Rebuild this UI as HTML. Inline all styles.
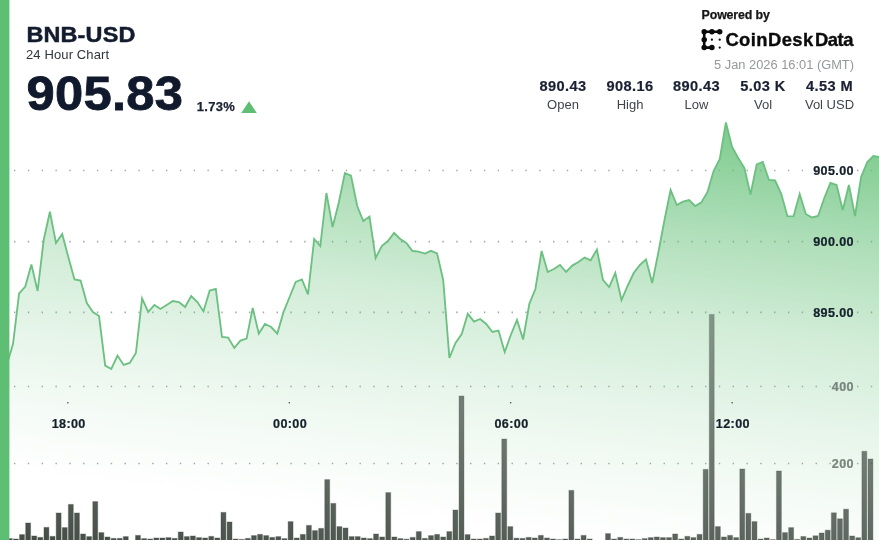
<!DOCTYPE html>
<html lang="en">
<head>
<meta charset="utf-8">
<title>BNB-USD 24 Hour Chart</title>
<style>
html,body{margin:0;padding:0;background:#fff;}
body{width:879px;height:540px;overflow:hidden;position:relative;}
svg{display:block;position:absolute;left:0;top:0;will-change:transform;}
text{font-family:"Liberation Sans",sans-serif;}
.ax{font-size:12.6px;font-weight:700;fill:#15202b;letter-spacing:0.38px;stroke:#15202b;stroke-width:0.22px;}
.vx{fill:#79857e;stroke:#79857e;}
.sv{font-size:14.6px;font-weight:700;fill:#1a2133;letter-spacing:0.42px;stroke:#1a2133;stroke-width:0.2px;}
.sl{font-size:13px;fill:#3f444d;}
</style>
</head>
<body>
<svg width="879" height="540" viewBox="0 0 879 540">
<defs>
<linearGradient id="fillg" gradientUnits="userSpaceOnUse" x1="850" y1="122" x2="797.1" y2="573.8"><stop offset="0.000" stop-color="#5fbe73" stop-opacity="0.84"/><stop offset="0.073" stop-color="#5fbe73" stop-opacity="0.76"/><stop offset="0.283" stop-color="#5fbe73" stop-opacity="0.49"/><stop offset="0.480" stop-color="#5fbe73" stop-opacity="0.285"/><stop offset="0.668" stop-color="#5fbe73" stop-opacity="0.155"/><stop offset="0.810" stop-color="#5fbe73" stop-opacity="0.075"/><stop offset="0.841" stop-color="#5fbe73" stop-opacity="0.06"/><stop offset="0.954" stop-color="#5fbe73" stop-opacity="0.012"/><stop offset="1.000" stop-color="#5fbe73" stop-opacity="0.0"/></linearGradient>
<linearGradient id="barg" gradientUnits="userSpaceOnUse" x1="850" y1="122" x2="790.2" y2="633"><stop offset="0" stop-color="#36483c" stop-opacity="0.22"/><stop offset="1" stop-color="#3c443e" stop-opacity="0.955"/></linearGradient>
</defs>
<rect x="0" y="0" width="879" height="540" fill="#ffffff"/>
<g stroke="#a3a7a9" stroke-width="1.7" stroke-dasharray="1.4 12.42" fill="none"><line x1="14" x2="879" y1="170.5" y2="170.5"/><line x1="14" x2="879" y1="241.6" y2="241.6"/><line x1="14" x2="879" y1="312.3" y2="312.3"/><line x1="14" x2="879" y1="386.5" y2="386.5"/><line x1="14" x2="879" y1="463.5" y2="463.5"/></g>
<path d="M0.7 372.0 L6.9 364.6 L13.0 344.0 L19.1 293.5 L25.3 286.5 L31.4 264.4 L37.6 291.0 L43.7 240.0 L49.9 211.6 L56.0 243.0 L62.2 234.0 L68.3 257.0 L74.5 279.5 L80.6 280.5 L86.8 303.0 L92.9 312.0 L99.0 316.0 L105.2 365.6 L111.3 369.0 L117.5 355.6 L123.6 365.0 L129.8 363.0 L135.9 353.0 L142.1 298.4 L148.2 312.0 L154.4 305.0 L160.5 309.0 L166.7 305.0 L172.8 301.0 L178.9 302.0 L185.1 307.0 L191.2 296.0 L197.4 302.0 L203.5 311.4 L209.7 290.6 L215.8 289.0 L222.0 337.0 L228.1 337.6 L234.3 348.0 L240.4 340.6 L246.6 338.6 L252.7 308.0 L258.8 333.6 L265.0 324.0 L271.1 327.0 L277.3 333.6 L283.4 312.4 L289.6 297.0 L295.7 282.0 L301.9 279.4 L308.0 294.4 L314.2 239.0 L320.3 246.0 L326.4 193.0 L332.6 227.0 L338.7 203.0 L344.9 173.0 L351.0 175.6 L357.2 206.0 L363.3 221.0 L369.5 216.6 L375.6 258.0 L381.8 246.0 L387.9 241.0 L394.1 233.0 L400.2 239.0 L406.3 243.0 L412.5 251.0 L418.6 251.6 L424.8 253.6 L430.9 250.8 L437.1 253.5 L443.2 280.0 L449.4 358.0 L455.5 343.0 L461.7 334.0 L467.8 313.8 L474.0 321.6 L480.1 319.0 L486.2 324.0 L492.4 332.0 L498.5 330.6 L504.7 352.0 L510.8 335.0 L517.0 320.0 L523.1 339.5 L529.3 304.0 L535.4 289.0 L541.6 251.0 L547.7 272.0 L553.9 269.0 L560.0 265.0 L566.1 272.0 L572.3 265.6 L578.4 262.0 L584.6 257.6 L590.7 260.3 L596.9 249.5 L603.0 280.0 L609.2 287.0 L615.3 273.0 L621.5 300.0 L627.6 286.0 L633.7 273.0 L639.9 265.0 L646.0 259.4 L652.2 283.0 L658.3 252.8 L664.5 220.0 L670.6 190.0 L676.8 205.0 L682.9 201.6 L689.1 200.0 L695.2 206.0 L701.4 202.4 L707.5 192.0 L713.6 171.0 L719.8 159.0 L725.9 122.4 L732.1 147.0 L738.2 158.0 L744.4 168.0 L750.5 194.5 L756.7 164.4 L762.8 162.0 L769.0 180.0 L775.1 180.5 L781.3 194.0 L787.4 216.2 L793.5 216.4 L799.7 194.0 L805.8 214.0 L812.0 217.5 L818.1 216.0 L824.3 198.0 L830.4 183.0 L836.6 185.0 L842.7 210.0 L848.9 185.0 L855.0 216.0 L861.1 177.0 L867.3 162.0 L873.4 156.0 L879.6 157.0 L879.5 541 L0 541 Z" fill="url(#fillg)" stroke="none"/>
<path d="M0.7 372.0 L6.9 364.6 L13.0 344.0 L19.1 293.5 L25.3 286.5 L31.4 264.4 L37.6 291.0 L43.7 240.0 L49.9 211.6 L56.0 243.0 L62.2 234.0 L68.3 257.0 L74.5 279.5 L80.6 280.5 L86.8 303.0 L92.9 312.0 L99.0 316.0 L105.2 365.6 L111.3 369.0 L117.5 355.6 L123.6 365.0 L129.8 363.0 L135.9 353.0 L142.1 298.4 L148.2 312.0 L154.4 305.0 L160.5 309.0 L166.7 305.0 L172.8 301.0 L178.9 302.0 L185.1 307.0 L191.2 296.0 L197.4 302.0 L203.5 311.4 L209.7 290.6 L215.8 289.0 L222.0 337.0 L228.1 337.6 L234.3 348.0 L240.4 340.6 L246.6 338.6 L252.7 308.0 L258.8 333.6 L265.0 324.0 L271.1 327.0 L277.3 333.6 L283.4 312.4 L289.6 297.0 L295.7 282.0 L301.9 279.4 L308.0 294.4 L314.2 239.0 L320.3 246.0 L326.4 193.0 L332.6 227.0 L338.7 203.0 L344.9 173.0 L351.0 175.6 L357.2 206.0 L363.3 221.0 L369.5 216.6 L375.6 258.0 L381.8 246.0 L387.9 241.0 L394.1 233.0 L400.2 239.0 L406.3 243.0 L412.5 251.0 L418.6 251.6 L424.8 253.6 L430.9 250.8 L437.1 253.5 L443.2 280.0 L449.4 358.0 L455.5 343.0 L461.7 334.0 L467.8 313.8 L474.0 321.6 L480.1 319.0 L486.2 324.0 L492.4 332.0 L498.5 330.6 L504.7 352.0 L510.8 335.0 L517.0 320.0 L523.1 339.5 L529.3 304.0 L535.4 289.0 L541.6 251.0 L547.7 272.0 L553.9 269.0 L560.0 265.0 L566.1 272.0 L572.3 265.6 L578.4 262.0 L584.6 257.6 L590.7 260.3 L596.9 249.5 L603.0 280.0 L609.2 287.0 L615.3 273.0 L621.5 300.0 L627.6 286.0 L633.7 273.0 L639.9 265.0 L646.0 259.4 L652.2 283.0 L658.3 252.8 L664.5 220.0 L670.6 190.0 L676.8 205.0 L682.9 201.6 L689.1 200.0 L695.2 206.0 L701.4 202.4 L707.5 192.0 L713.6 171.0 L719.8 159.0 L725.9 122.4 L732.1 147.0 L738.2 158.0 L744.4 168.0 L750.5 194.5 L756.7 164.4 L762.8 162.0 L769.0 180.0 L775.1 180.5 L781.3 194.0 L787.4 216.2 L793.5 216.4 L799.7 194.0 L805.8 214.0 L812.0 217.5 L818.1 216.0 L824.3 198.0 L830.4 183.0 L836.6 185.0 L842.7 210.0 L848.9 185.0 L855.0 216.0 L861.1 177.0 L867.3 162.0 L873.4 156.0 L879.6 157.0" fill="none" stroke="#6cc081" stroke-width="1.85" stroke-linejoin="miter" stroke-linecap="butt"/>
<g fill="url(#barg)" stroke="url(#barg)" stroke-opacity="0.36" stroke-width="1.1"><rect x="7.35" y="538.6" width="4.9" height="2.4"/><rect x="13.46" y="539.0" width="4.9" height="2.0"/><rect x="19.56" y="534.6" width="4.9" height="6.4"/><rect x="25.67" y="523.0" width="4.9" height="18.0"/><rect x="31.77" y="536.0" width="4.9" height="5.0"/><rect x="37.87" y="537.4" width="4.9" height="3.6"/><rect x="43.98" y="527.4" width="4.9" height="13.6"/><rect x="50.08" y="536.4" width="4.9" height="4.6"/><rect x="56.19" y="513.0" width="4.9" height="28.0"/><rect x="62.29" y="527.6" width="4.9" height="13.4"/><rect x="68.39" y="504.4" width="4.9" height="36.6"/><rect x="74.50" y="513.0" width="4.9" height="28.0"/><rect x="80.60" y="534.0" width="4.9" height="7.0"/><rect x="86.71" y="536.6" width="4.9" height="4.4"/><rect x="92.81" y="501.6" width="4.9" height="39.4"/><rect x="98.91" y="532.6" width="4.9" height="8.4"/><rect x="105.02" y="537.0" width="4.9" height="4.0"/><rect x="111.12" y="538.4" width="4.9" height="2.6"/><rect x="117.23" y="538.4" width="4.9" height="2.6"/><rect x="123.33" y="536.6" width="4.9" height="4.4"/><rect x="135.54" y="535.4" width="4.9" height="5.6"/><rect x="141.64" y="538.6" width="4.9" height="2.4"/><rect x="147.75" y="539.0" width="4.9" height="2.0"/><rect x="153.85" y="538.0" width="4.9" height="3.0"/><rect x="159.95" y="538.0" width="4.9" height="3.0"/><rect x="166.06" y="537.6" width="4.9" height="3.4"/><rect x="172.16" y="538.4" width="4.9" height="2.6"/><rect x="178.27" y="532.0" width="4.9" height="9.0"/><rect x="184.37" y="536.6" width="4.9" height="4.4"/><rect x="190.47" y="536.0" width="4.9" height="5.0"/><rect x="196.58" y="537.6" width="4.9" height="3.4"/><rect x="202.68" y="538.0" width="4.9" height="3.0"/><rect x="208.79" y="536.4" width="4.9" height="4.6"/><rect x="214.89" y="538.0" width="4.9" height="3.0"/><rect x="220.99" y="512.4" width="4.9" height="28.6"/><rect x="227.10" y="522.0" width="4.9" height="19.0"/><rect x="233.20" y="539.0" width="4.9" height="2.0"/><rect x="239.31" y="539.4" width="4.9" height="1.6"/><rect x="245.41" y="538.4" width="4.9" height="2.6"/><rect x="251.51" y="535.6" width="4.9" height="5.4"/><rect x="257.62" y="534.4" width="4.9" height="6.6"/><rect x="263.72" y="535.6" width="4.9" height="5.4"/><rect x="269.83" y="537.4" width="4.9" height="3.6"/><rect x="275.93" y="536.6" width="4.9" height="4.4"/><rect x="282.03" y="538.6" width="4.9" height="2.4"/><rect x="288.14" y="521.6" width="4.9" height="19.4"/><rect x="294.24" y="538.0" width="4.9" height="3.0"/><rect x="300.35" y="534.4" width="4.9" height="6.6"/><rect x="306.45" y="525.4" width="4.9" height="15.6"/><rect x="312.55" y="530.6" width="4.9" height="10.4"/><rect x="318.66" y="528.4" width="4.9" height="12.6"/><rect x="324.76" y="479.6" width="4.9" height="61.4"/><rect x="330.87" y="503.4" width="4.9" height="37.6"/><rect x="336.97" y="526.6" width="4.9" height="14.4"/><rect x="343.07" y="528.0" width="4.9" height="13.0"/><rect x="349.18" y="536.6" width="4.9" height="4.4"/><rect x="355.28" y="536.6" width="4.9" height="4.4"/><rect x="361.39" y="538.0" width="4.9" height="3.0"/><rect x="367.49" y="538.6" width="4.9" height="2.4"/><rect x="373.59" y="534.0" width="4.9" height="7.0"/><rect x="379.70" y="537.0" width="4.9" height="4.0"/><rect x="385.80" y="492.6" width="4.9" height="48.4"/><rect x="391.91" y="537.0" width="4.9" height="4.0"/><rect x="398.01" y="538.6" width="4.9" height="2.4"/><rect x="404.11" y="539.2" width="4.9" height="1.8"/><rect x="410.22" y="537.4" width="4.9" height="3.6"/><rect x="416.32" y="531.6" width="4.9" height="9.4"/><rect x="422.43" y="538.4" width="4.9" height="2.6"/><rect x="428.53" y="535.6" width="4.9" height="5.4"/><rect x="434.63" y="534.4" width="4.9" height="6.6"/><rect x="440.74" y="537.0" width="4.9" height="4.0"/><rect x="446.84" y="531.6" width="4.9" height="9.4"/><rect x="452.95" y="510.0" width="4.9" height="31.0"/><rect x="459.05" y="396.0" width="4.9" height="145.0"/><rect x="465.15" y="534.6" width="4.9" height="6.4"/><rect x="471.26" y="539.0" width="4.9" height="2.0"/><rect x="477.36" y="539.0" width="4.9" height="2.0"/><rect x="483.47" y="538.4" width="4.9" height="2.6"/><rect x="489.57" y="536.0" width="4.9" height="5.0"/><rect x="495.67" y="513.0" width="4.9" height="28.0"/><rect x="501.78" y="439.0" width="4.9" height="102.0"/><rect x="507.88" y="526.6" width="4.9" height="14.4"/><rect x="513.99" y="538.2" width="4.9" height="2.8"/><rect x="520.09" y="538.4" width="4.9" height="2.6"/><rect x="526.19" y="537.4" width="4.9" height="3.6"/><rect x="532.30" y="538.0" width="4.9" height="3.0"/><rect x="538.40" y="535.4" width="4.9" height="5.6"/><rect x="544.51" y="538.0" width="4.9" height="3.0"/><rect x="550.61" y="539.0" width="4.9" height="2.0"/><rect x="556.71" y="539.6" width="4.9" height="1.4"/><rect x="562.82" y="539.0" width="4.9" height="2.0"/><rect x="568.92" y="490.4" width="4.9" height="50.6"/><rect x="575.03" y="539.0" width="4.9" height="2.0"/><rect x="581.13" y="535.4" width="4.9" height="5.6"/><rect x="587.23" y="539.0" width="4.9" height="2.0"/><rect x="605.55" y="533.6" width="4.9" height="7.4"/><rect x="611.65" y="539.0" width="4.9" height="2.0"/><rect x="617.75" y="537.4" width="4.9" height="3.6"/><rect x="623.86" y="539.0" width="4.9" height="2.0"/><rect x="629.96" y="539.0" width="4.9" height="2.0"/><rect x="636.07" y="539.6" width="4.9" height="1.4"/><rect x="642.17" y="538.6" width="4.9" height="2.4"/><rect x="648.27" y="537.6" width="4.9" height="3.4"/><rect x="654.38" y="537.0" width="4.9" height="4.0"/><rect x="660.48" y="537.6" width="4.9" height="3.4"/><rect x="666.59" y="537.6" width="4.9" height="3.4"/><rect x="672.69" y="534.0" width="4.9" height="7.0"/><rect x="678.79" y="539.0" width="4.9" height="2.0"/><rect x="684.90" y="536.4" width="4.9" height="4.6"/><rect x="691.00" y="537.6" width="4.9" height="3.4"/><rect x="697.11" y="534.4" width="4.9" height="6.6"/><rect x="703.21" y="469.4" width="4.9" height="71.6"/><rect x="709.31" y="314.4" width="4.9" height="226.6"/><rect x="715.42" y="526.6" width="4.9" height="14.4"/><rect x="721.52" y="537.0" width="4.9" height="4.0"/><rect x="727.63" y="535.4" width="4.9" height="5.6"/><rect x="733.73" y="537.6" width="4.9" height="3.4"/><rect x="739.83" y="469.0" width="4.9" height="72.0"/><rect x="745.94" y="513.4" width="4.9" height="27.6"/><rect x="752.04" y="521.6" width="4.9" height="19.4"/><rect x="758.15" y="539.0" width="4.9" height="2.0"/><rect x="764.25" y="538.0" width="4.9" height="3.0"/><rect x="770.35" y="539.6" width="4.9" height="1.4"/><rect x="776.46" y="471.0" width="4.9" height="70.0"/><rect x="782.56" y="532.6" width="4.9" height="8.4"/><rect x="788.67" y="527.6" width="4.9" height="13.4"/><rect x="794.77" y="539.4" width="4.9" height="1.6"/><rect x="800.87" y="536.5" width="4.9" height="4.5"/><rect x="806.98" y="538.0" width="4.9" height="3.0"/><rect x="813.08" y="535.8" width="4.9" height="5.2"/><rect x="819.19" y="533.0" width="4.9" height="8.0"/><rect x="825.29" y="530.2" width="4.9" height="10.8"/><rect x="831.39" y="512.8" width="4.9" height="28.2"/><rect x="837.50" y="518.8" width="4.9" height="22.2"/><rect x="843.60" y="509.2" width="4.9" height="31.8"/><rect x="849.71" y="536.0" width="4.9" height="5.0"/><rect x="855.81" y="537.7" width="4.9" height="3.3"/><rect x="861.91" y="451.3" width="4.9" height="89.7"/><rect x="868.02" y="459.0" width="4.9" height="82.0"/></g>
<text x="854" y="175.1" text-anchor="end" class="ax">905.00</text><text x="854" y="246.1" text-anchor="end" class="ax">900.00</text><text x="854" y="316.9" text-anchor="end" class="ax">895.00</text><text x="854" y="390.8" text-anchor="end" class="ax vx">400</text><text x="854" y="468.0" text-anchor="end" class="ax vx">200</text><circle cx="67.9" cy="402.8" r="0.75" fill="#3a3f48"/><text x="68.7" y="428" text-anchor="middle" class="ax">18:00</text><circle cx="289.3" cy="402.8" r="0.75" fill="#3a3f48"/><text x="290.1" y="428" text-anchor="middle" class="ax">00:00</text><circle cx="510.7" cy="402.8" r="0.75" fill="#3a3f48"/><text x="511.5" y="428" text-anchor="middle" class="ax">06:00</text><circle cx="732.1" cy="402.8" r="0.75" fill="#3a3f48"/><text x="732.9" y="428" text-anchor="middle" class="ax">12:00</text>
<rect x="0" y="0" width="9.4" height="540" fill="#5ebe73"/>
<text transform="translate(26.4 42) scale(1.10 1)" style="font-size:21.3px;font-weight:700;fill:#131b2e;stroke:#131b2e;stroke-width:0.45px;letter-spacing:0.15px;">BNB-USD</text>
<text x="26" y="59.3" style="font-size:13px;fill:#30343c;letter-spacing:0.12px;">24 Hour Chart</text>
<text transform="translate(26.4 109.9) scale(1.074 1)" style="font-size:47.2px;font-weight:700;fill:#111a2c;stroke:#111a2c;stroke-width:0.8px;letter-spacing:0.3px;">905.83</text>
<text x="196.7" y="110.5" style="font-size:13px;font-weight:700;fill:#1c2233;letter-spacing:0.3px;stroke:#1c2233;stroke-width:0.25px;">1.73%</text>
<path d="M249 101.3 L256.8 113 L241.2 113 Z" fill="#5fbe73"/>
<text x="701.6" y="18.6" style="font-size:12.4px;font-weight:700;fill:#161616;letter-spacing:-0.15px;stroke:#161616;stroke-width:0.25px;">Powered by</text>
<g fill="#0b0b0b" stroke="#0b0b0b"><path d="M719.7 31.8 L704.2 31.8 L704.2 47.6 L711.9 47.6" fill="none" stroke-width="2.6" stroke-linecap="round" stroke-linejoin="round"/><circle cx="704.2" cy="31.8" r="2.75" stroke="none"/><circle cx="711.9" cy="31.8" r="2.75" stroke="none"/><circle cx="719.7" cy="31.8" r="2.75" stroke="none"/><circle cx="704.2" cy="39.7" r="2.75" stroke="none"/><circle cx="704.2" cy="47.6" r="2.75" stroke="none"/><circle cx="711.9" cy="47.6" r="2.75" stroke="none"/><circle cx="711.9" cy="39.7" r="1.15" stroke="none"/><circle cx="719.7" cy="39.7" r="1.15" stroke="none"/><circle cx="719.7" cy="47.6" r="1.15" stroke="none"/></g>
<text y="46" style="font-size:18.4px;font-weight:700;fill:#0b0b0b;stroke:#0b0b0b;stroke-width:0.35px;"><tspan x="725.4" style="letter-spacing:0.42px;">CoinDesk </tspan><tspan x="814.9" style="letter-spacing:-0.4px;">Data</tspan></text>
<text x="854" y="68.5" text-anchor="end" style="font-size:12.85px;fill:#95989c;">5 Jan 2026 16:01 (GMT)</text>
<text x="563" y="90.7" text-anchor="middle" class="sv">890.43</text><text x="563" y="109" text-anchor="middle" class="sl">Open</text><text x="630" y="90.7" text-anchor="middle" class="sv">908.16</text><text x="630" y="109" text-anchor="middle" class="sl">High</text><text x="696.5" y="90.7" text-anchor="middle" class="sv">890.43</text><text x="696.5" y="109" text-anchor="middle" class="sl">Low</text><text x="763" y="90.7" text-anchor="middle" class="sv">5.03 K</text><text x="763" y="109" text-anchor="middle" class="sl">Vol</text><text x="829.5" y="90.7" text-anchor="middle" class="sv">4.53 M</text><text x="829.5" y="109" text-anchor="middle" class="sl">Vol USD</text>
</svg>
</body>
</html>
